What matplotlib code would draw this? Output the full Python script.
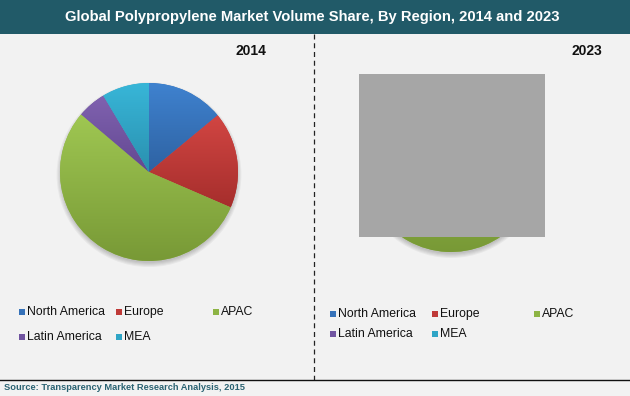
import matplotlib
matplotlib.use("Agg")
import matplotlib.pyplot as plt
import numpy as np
from matplotlib.patches import Rectangle, Circle
from matplotlib.colors import LinearSegmentedColormap
from matplotlib import font_manager

# ---------------- data ----------------
regions = ["North America", "Europe", "APAC", "Latin America", "MEA"]
share_2014 = [14.0, 17.5, 54.7, 5.2, 8.6]
share_2023 = [13.0, 16.5, 57.0, 5.0, 8.5]
years = ["2014", "2023"]
title = "Global Polypropylene Market Volume Share, By Region, 2014 and 2023"
source = "Source: Transparency Market Research Analysis, 2015"

# ---------------- style ----------------
top_colors = ["#3f82cf", "#d24643", "#9fc752", "#8062b0", "#38b6d8"]
bot_colors = ["#2e62a2", "#a62e2c", "#789936", "#634891", "#2a90af"]
mid_colors = ["#3672b9", "#bf3a38", "#8db444", "#7054a0", "#2fa5c6"]
BG = "#f2f2f2"
BAR = "#215a68"
FONT = "Liberation Sans"
try:
    font_manager.findfont(font_manager.FontProperties(family="Liberation Sans Narrow"),
                          fallback_to_default=False)
    NARROW = "Liberation Sans Narrow"
    src_size = 7.6
except Exception:
    NARROW = FONT
    src_size = 6.7

W, H = 630, 396
fig = plt.figure(figsize=(W / 100, H / 100), dpi=100, facecolor=BG)
bg = fig.add_axes([0, 0, 1, 1])
bg.set_xlim(0, W)
bg.set_ylim(H, 0)
bg.axis("off")
bg.set_facecolor(BG)

# title bar
bg.add_patch(Rectangle((0, 0), W, 34, facecolor=BAR, edgecolor="none"))
bg.text(312, 16.5, title, color="white", fontsize=10.6, fontweight="bold",
        family=FONT, ha="center", va="center")

# divider and bottom rule
bg.plot([314, 314], [34, 382], color="#222222", lw=0.9, ls=(0, (4, 3)))
bg.plot([0, W], [380, 380], color="#111111", lw=1.0)
bg.text(4, 388, source, color="#2a6272", fontsize=src_size, fontweight="bold",
        family=NARROW, ha="left", va="center")

# year labels
bg.text(251, 51, years[0], fontsize=10, fontweight="bold", family=FONT,
        ha="center", va="center", color="#111111")
bg.text(587, 51, years[1], fontsize=10, fontweight="bold", family=FONT,
        ha="center", va="center", color="#111111")


def draw_pie(cx, cy, r, values):
    m = 1.15
    ax = fig.add_axes([(cx - m * r) / W, (H - cy - m * r) / H,
                       2 * m * r / W, 2 * m * r / H])
    ax.axis("off")
    # soft shadow
    for k in range(5):
        ax.add_patch(Circle((0.0, -0.03), 0.99 + 0.012 * k, facecolor="#000000",
                            alpha=0.045, edgecolor="none", zorder=0))
    wedges, _ = ax.pie(values, colors=mid_colors, startangle=90,
                       counterclock=False, radius=1.0,
                       wedgeprops=dict(linewidth=0, zorder=1))
    grad = np.linspace(0, 1, 256).reshape(-1, 1)
    for i, w in enumerate(wedges):
        t1, t2 = np.deg2rad(w.theta1), np.deg2rad(w.theta2)
        th = np.linspace(t1, t2, 200)
        ys = np.concatenate([[0], np.sin(th)])
        xs = np.concatenate([[0], np.cos(th)])
        cmap = LinearSegmentedColormap.from_list("g", [bot_colors[i], top_colors[i]])
        im = ax.imshow(grad, extent=[xs.min(), xs.max(), ys.min(), ys.max()],
                       origin="lower", cmap=cmap, aspect="auto", zorder=2)
        im.set_clip_path(w)
    ax.set_xlim(-m, m)
    ax.set_ylim(-m, m)
    return ax


draw_pie(149, 172, 89, share_2014)
draw_pie(451, 164, 88, share_2023)

# overlay layer: grey block covering the 2023 pie
top = fig.add_axes([0, 0, 1, 1])
top.set_xlim(0, W)
top.set_ylim(H, 0)
top.axis("off")
top.patch.set_alpha(0)
top.add_patch(Rectangle((359, 74), 186, 163, facecolor="#a6a6a6",
                        edgecolor="none"))


def draw_legend(x0, dx, rows_y):
    for i, name in enumerate(regions):
        row, col = divmod(i, 3)
        x = x0 + col * dx
        y = rows_y[row]
        bg.add_patch(Rectangle((x, y - 3), 6, 6, facecolor=mid_colors[i],
                               edgecolor="none"))
        bg.text(x + 8, y, name, fontsize=8.8, family=FONT, ha="left",
                va="center", color="#111111")


draw_legend(19, 97, [312, 337])
draw_legend(330, 102, [314, 334])

fig.savefig("out.png", dpi=100, facecolor=BG)
